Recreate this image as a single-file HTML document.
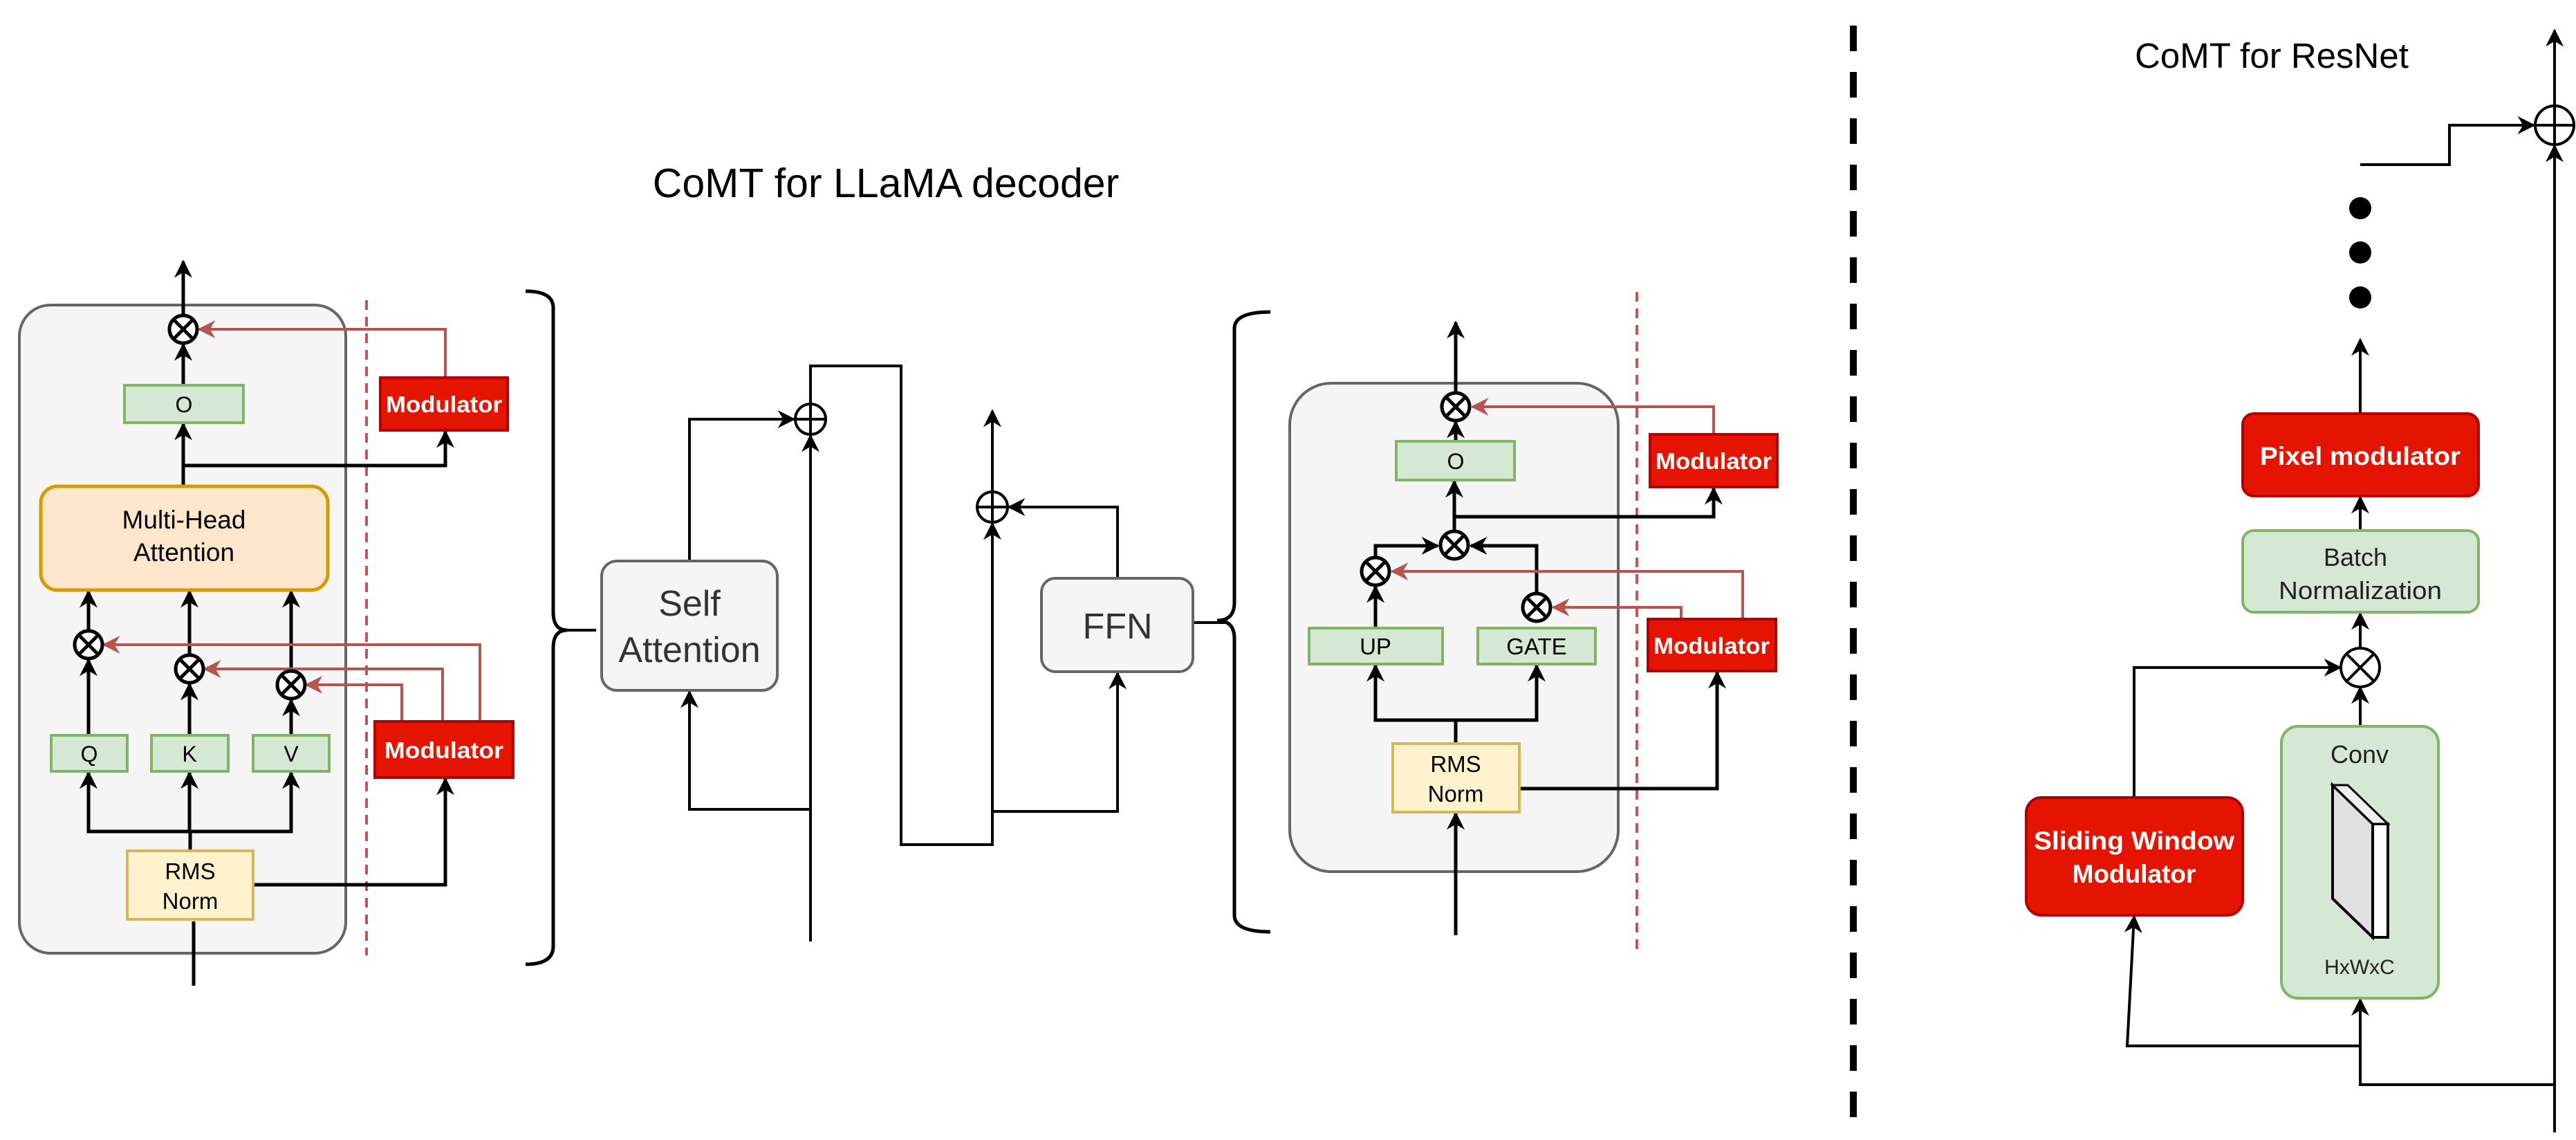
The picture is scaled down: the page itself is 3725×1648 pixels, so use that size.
<!DOCTYPE html>
<html><head><meta charset="utf-8"><style>
html,body{margin:0;padding:0;background:#fff;}
svg{display:block;font-family:"Liberation Sans",Arial,sans-serif;}
</style></head><body>
<svg width="3725" height="1648" viewBox="0 0 3725 1648" xmlns="http://www.w3.org/2000/svg">
<defs>
<marker id="a" viewBox="0 0 10 10" refX="9" refY="5" markerWidth="26" markerHeight="26" markerUnits="userSpaceOnUse" orient="auto"><path d="M0,0 L10,5 L0,10 L3,5 z" fill="#000"/></marker>
<marker id="r" viewBox="0 0 10 10" refX="9" refY="5" markerWidth="26" markerHeight="26" markerUnits="userSpaceOnUse" orient="auto"><path d="M0,0 L10,5 L0,10 L3,5 z" fill="#b85450"/></marker>
<g id="ot"><circle r="20" fill="#fff" stroke="#000" stroke-width="5"/><path d="M-14,-14 L14,14 M-14,14 L14,-14" stroke="#000" stroke-width="5"/></g>
<g id="op"><circle r="22" fill="none" stroke="#000" stroke-width="4"/><path d="M-22,0 H22 M0,-22 V22" stroke="#000" stroke-width="4"/></g>
</defs>

<rect x="28" y="441" width="472" height="937" rx="45" fill="#f5f5f5" stroke="#666" stroke-width="4"/>
<line x1="530" y1="434" x2="530" y2="1381" stroke="#d05050" stroke-width="4" stroke-dasharray="14,10"/>
<g stroke="#000" stroke-width="5" fill="none">
<line x1="265" y1="456" x2="265" y2="378" marker-end="url(#a)"/>
<line x1="265" y1="557" x2="265" y2="498" marker-end="url(#a)"/>
<line x1="265" y1="703" x2="265" y2="613" marker-end="url(#a)"/>
<polyline points="265,673 644,673 644,624" marker-end="url(#a)"/>
<line x1="128" y1="1063" x2="128" y2="954" marker-end="url(#a)"/>
<line x1="128" y1="912" x2="128" y2="855" marker-end="url(#a)"/>
<line x1="274" y1="1063" x2="274" y2="989" marker-end="url(#a)"/>
<line x1="274" y1="947" x2="274" y2="855" marker-end="url(#a)"/>
<line x1="421" y1="1063" x2="421" y2="1012" marker-end="url(#a)"/>
<line x1="421" y1="970" x2="421" y2="855" marker-end="url(#a)"/>
<line x1="275" y1="1230" x2="275" y2="1202"/>
<polyline points="128,1117 128,1202 421,1202 421,1117"/>
<line x1="128" y1="1202" x2="128" y2="1117" marker-end="url(#a)"/>
<line x1="274" y1="1202" x2="274" y2="1117" marker-end="url(#a)"/>
<line x1="421" y1="1202" x2="421" y2="1117" marker-end="url(#a)"/>
<polyline points="366,1279 644,1279 644,1126" marker-end="url(#a)"/>
<line x1="280" y1="1332" x2="280" y2="1425"/>
</g>
<g stroke="#b85450" stroke-width="4" fill="none">
<polyline points="644,546 644,476 288,476" marker-end="url(#r)"/>
<polyline points="694,1043 694,932 150,932" marker-end="url(#r)"/>
<polyline points="640,1043 640,967 296,967" marker-end="url(#r)"/>
<polyline points="581,1043 581,990 443,990" marker-end="url(#r)"/>
</g>
<use href="#ot" x="265" y="476"/>
<use href="#ot" x="128" y="932"/>
<use href="#ot" x="274" y="967"/>
<use href="#ot" x="421" y="990"/>
<rect x="180" y="557" width="172" height="54" fill="#d5e8d4" stroke="#82b366" stroke-width="4"/>
<text x="266" y="596" font-size="32" text-anchor="middle">O</text>
<rect x="59" y="703" width="415" height="150" rx="24" fill="#ffe6cc" stroke="#d79b00" stroke-width="5"/>
<text x="266" y="764" font-size="37" text-anchor="middle">Multi-Head</text>
<text x="266" y="811" font-size="37" text-anchor="middle">Attention</text>
<rect x="74" y="1063" width="110" height="52" fill="#d5e8d4" stroke="#82b366" stroke-width="4"/>
<text x="129" y="1101" font-size="32" text-anchor="middle">Q</text>
<rect x="219" y="1063" width="111" height="52" fill="#d5e8d4" stroke="#82b366" stroke-width="4"/>
<text x="274" y="1101" font-size="32" text-anchor="middle">K</text>
<rect x="366" y="1063" width="110" height="52" fill="#d5e8d4" stroke="#82b366" stroke-width="4"/>
<text x="421" y="1101" font-size="32" text-anchor="middle">V</text>
<rect x="184" y="1230" width="182" height="99" fill="#fff2cc" stroke="#d6b656" stroke-width="4"/>
<text x="275" y="1271" font-size="33" text-anchor="middle">RMS</text>
<text x="275" y="1314" font-size="33" text-anchor="middle">Norm</text>
<rect x="550" y="546" width="184" height="76" fill="#e51400" stroke="#b20000" stroke-width="4"/>
<text x="642" y="596" font-size="33" font-weight="bold" fill="#fff" text-anchor="middle" textLength="168" lengthAdjust="spacingAndGlyphs">Modulator</text>
<rect x="542" y="1043" width="200" height="81" fill="#e51400" stroke="#b20000" stroke-width="4"/>
<text x="642" y="1096" font-size="33" font-weight="bold" fill="#fff" text-anchor="middle" textLength="172" lengthAdjust="spacingAndGlyphs">Modulator</text>

<path d="M760,421 Q800,421 800,445 V885 Q800,911 820,911 Q800,911 800,937 V1368 Q800,1394 760,1394" fill="none" stroke="#000" stroke-width="5"/>

<text x="1281" y="285" font-size="59" text-anchor="middle">CoMT for LLaMA decoder</text>
<g stroke="#000" stroke-width="4" fill="none">
<line x1="820" y1="911" x2="862" y2="911"/>
<polyline points="997,811 997,606 1148,606" marker-end="url(#a)"/>
<line x1="1172" y1="1361" x2="1172" y2="630" marker-end="url(#a)"/>
<polyline points="1172,1170 997,1170 997,1000" marker-end="url(#a)"/>
<polyline points="1172,584 1172,529 1303,529 1303,1221 1435,1221 1435,757" marker-end="url(#a)"/>
<polyline points="1435,1173 1616,1173 1616,973" marker-end="url(#a)"/>
<polyline points="1616,836 1616,733 1459,733" marker-end="url(#a)"/>
<line x1="1435" y1="711" x2="1435" y2="594" marker-end="url(#a)"/>
<line x1="1725" y1="900" x2="1775" y2="900"/>
</g>
<use href="#op" x="1172" y="606"/>
<use href="#op" x="1435" y="733"/>
<rect x="870" y="811" width="254" height="187" rx="22" fill="#f5f5f5" stroke="#666" stroke-width="4"/>
<text x="997" y="890" font-size="52" fill="#333" text-anchor="middle">Self</text>
<text x="997" y="957" font-size="52" fill="#333" text-anchor="middle">Attention</text>
<rect x="1506" y="836" width="219" height="135" rx="20" fill="#f5f5f5" stroke="#666" stroke-width="4"/>
<text x="1616" y="923" font-size="52" fill="#333" text-anchor="middle">FFN</text>

<path d="M1837,451 Q1785,451 1785,475 V871 Q1785,897 1760,897 Q1785,897 1785,923 V1323 Q1785,1347 1837,1347" fill="none" stroke="#000" stroke-width="5"/>

<rect x="1865" y="554" width="475" height="706" rx="60" fill="#f5f5f5" stroke="#666" stroke-width="4"/>
<line x1="2367" y1="422" x2="2367" y2="1374" stroke="#d05050" stroke-width="4" stroke-dasharray="14,10"/>
<g stroke="#000" stroke-width="5" fill="none">
<line x1="2105" y1="566" x2="2105" y2="466" marker-end="url(#a)"/>
<line x1="2105" y1="638" x2="2105" y2="610" marker-end="url(#a)"/>
<line x1="2103" y1="766" x2="2103" y2="696" marker-end="url(#a)"/>
<polyline points="2103,747 2478,747 2478,706" marker-end="url(#a)"/>
<polyline points="1989,804 1989,789 2079,789" marker-end="url(#a)"/>
<polyline points="2222,856 2222,789 2127,789" marker-end="url(#a)"/>
<line x1="1989" y1="908" x2="1989" y2="848" marker-end="url(#a)"/>
<line x1="2105" y1="1075" x2="2105" y2="1041"/>
<polyline points="1989,962 1989,1041 2222,1041 2222,962"/>
<line x1="1989" y1="1041" x2="1989" y2="962" marker-end="url(#a)"/>
<line x1="2222" y1="1041" x2="2222" y2="962" marker-end="url(#a)"/>
<polyline points="2197,1140 2483,1140 2483,972" marker-end="url(#a)"/>
<line x1="2105" y1="1352" x2="2105" y2="1176" marker-end="url(#a)"/>
</g>
<g stroke="#b85450" stroke-width="4" fill="none">
<polyline points="2478,628 2478,588 2129,588" marker-end="url(#r)"/>
<polyline points="2520,895 2520,826 2013,826" marker-end="url(#r)"/>
<polyline points="2431,895 2431,878 2246,878" marker-end="url(#r)"/>
</g>
<use href="#ot" x="2105" y="588"/>
<use href="#ot" x="2103" y="788"/>
<use href="#ot" x="1989" y="826"/>
<use href="#ot" x="2222" y="878"/>
<rect x="2019" y="638" width="171" height="56" fill="#d5e8d4" stroke="#82b366" stroke-width="4"/>
<text x="2105" y="678" font-size="32" text-anchor="middle">O</text>
<rect x="1893" y="908" width="193" height="52" fill="#d5e8d4" stroke="#82b366" stroke-width="4"/>
<text x="1989" y="946" font-size="33" text-anchor="middle">UP</text>
<rect x="2137" y="908" width="170" height="52" fill="#d5e8d4" stroke="#82b366" stroke-width="4"/>
<text x="2222" y="946" font-size="33" text-anchor="middle">GATE</text>
<rect x="2014" y="1075" width="183" height="99" fill="#fff2cc" stroke="#d6b656" stroke-width="4"/>
<text x="2105" y="1116" font-size="33" text-anchor="middle">RMS</text>
<text x="2105" y="1159" font-size="33" text-anchor="middle">Norm</text>
<rect x="2386" y="628" width="184" height="76" fill="#e51400" stroke="#b20000" stroke-width="4"/>
<text x="2478" y="678" font-size="33" font-weight="bold" fill="#fff" text-anchor="middle" textLength="168" lengthAdjust="spacingAndGlyphs">Modulator</text>
<rect x="2383" y="895" width="185" height="75" fill="#e51400" stroke="#b20000" stroke-width="4"/>
<text x="2475" y="945" font-size="33" font-weight="bold" fill="#fff" text-anchor="middle" textLength="168" lengthAdjust="spacingAndGlyphs">Modulator</text>

<line x1="2680" y1="37" x2="2680" y2="1626" stroke="#000" stroke-width="10" stroke-dasharray="37,30"/>
<text x="3285" y="98" font-size="51" text-anchor="middle">CoMT for ResNet</text>
<g stroke="#000" stroke-width="4" fill="none">
<line x1="3694" y1="1637" x2="3694" y2="211" marker-end="url(#a)"/>
<line x1="3694" y1="153" x2="3694" y2="44" marker-end="url(#a)"/>
<polyline points="3413,238 3542,238 3542,181 3664,181" marker-end="url(#a)"/>
<line x1="3413" y1="598" x2="3413" y2="491" marker-end="url(#a)"/>
<line x1="3413" y1="767" x2="3413" y2="719" marker-end="url(#a)"/>
<line x1="3413" y1="938" x2="3413" y2="887" marker-end="url(#a)"/>
<line x1="3413" y1="1050" x2="3413" y2="994" marker-end="url(#a)"/>
<polyline points="3086,1153 3086,965 3384,965" marker-end="url(#a)"/>
<polyline points="3694,1568 3413,1568 3413,1445" marker-end="url(#a)"/>
<polyline points="3413,1512 3076,1512 3086,1325" marker-end="url(#a)"/>
</g>
<circle cx="3694" cy="181" r="28" fill="none" stroke="#000" stroke-width="4"/>
<path d="M3666,181 H3722 M3694,153 V209" stroke="#000" stroke-width="4"/>
<circle cx="3413" cy="301" r="16" fill="#000"/>
<circle cx="3413" cy="365" r="16" fill="#000"/>
<circle cx="3413" cy="430" r="16" fill="#000"/>
<circle cx="3413" cy="965" r="28" fill="#fff" stroke="#000" stroke-width="4"/>
<path d="M3393,945 L3433,985 M3393,985 L3433,945" stroke="#000" stroke-width="4"/>
<rect x="3243" y="598" width="341" height="119" rx="16" fill="#e51400" stroke="#b20000" stroke-width="4"/>
<text x="3413" y="672" font-size="37" font-weight="bold" fill="#fff" text-anchor="middle" textLength="290" lengthAdjust="spacingAndGlyphs">Pixel modulator</text>
<rect x="3243" y="767" width="341" height="118" rx="16" fill="#d5e8d4" stroke="#82b366" stroke-width="4"/>
<text x="3406" y="818" font-size="36" fill="#222" text-anchor="middle">Batch</text>
<text x="3413" y="866" font-size="36" fill="#222" text-anchor="middle" textLength="236" lengthAdjust="spacingAndGlyphs">Normalization</text>
<rect x="3299" y="1050" width="227" height="393" rx="24" fill="#d5e8d4" stroke="#82b366" stroke-width="4"/>
<text x="3412" y="1103" font-size="36" fill="#222" text-anchor="middle">Conv</text>
<text x="3412" y="1408" font-size="30" fill="#222" text-anchor="middle">HxWxC</text>
<polygon points="3373,1135 3431,1191 3431,1355 3373,1299" fill="#e0e0e0" stroke="#000" stroke-width="4"/>
<polygon points="3431,1191 3453,1191 3453,1355 3431,1355" fill="#fff" stroke="#000" stroke-width="4"/>
<polygon points="3373,1135 3395,1135 3453,1191 3431,1191" fill="#f0f0f0" stroke="#000" stroke-width="3"/>
<rect x="2930" y="1153" width="313" height="170" rx="22" fill="#e51400" stroke="#b20000" stroke-width="4"/>
<text x="3086" y="1228" font-size="37" font-weight="bold" fill="#fff" text-anchor="middle" textLength="290" lengthAdjust="spacingAndGlyphs">Sliding Window</text>
<text x="3086" y="1276" font-size="37" font-weight="bold" fill="#fff" text-anchor="middle">Modulator</text>
</svg>
</body></html>
